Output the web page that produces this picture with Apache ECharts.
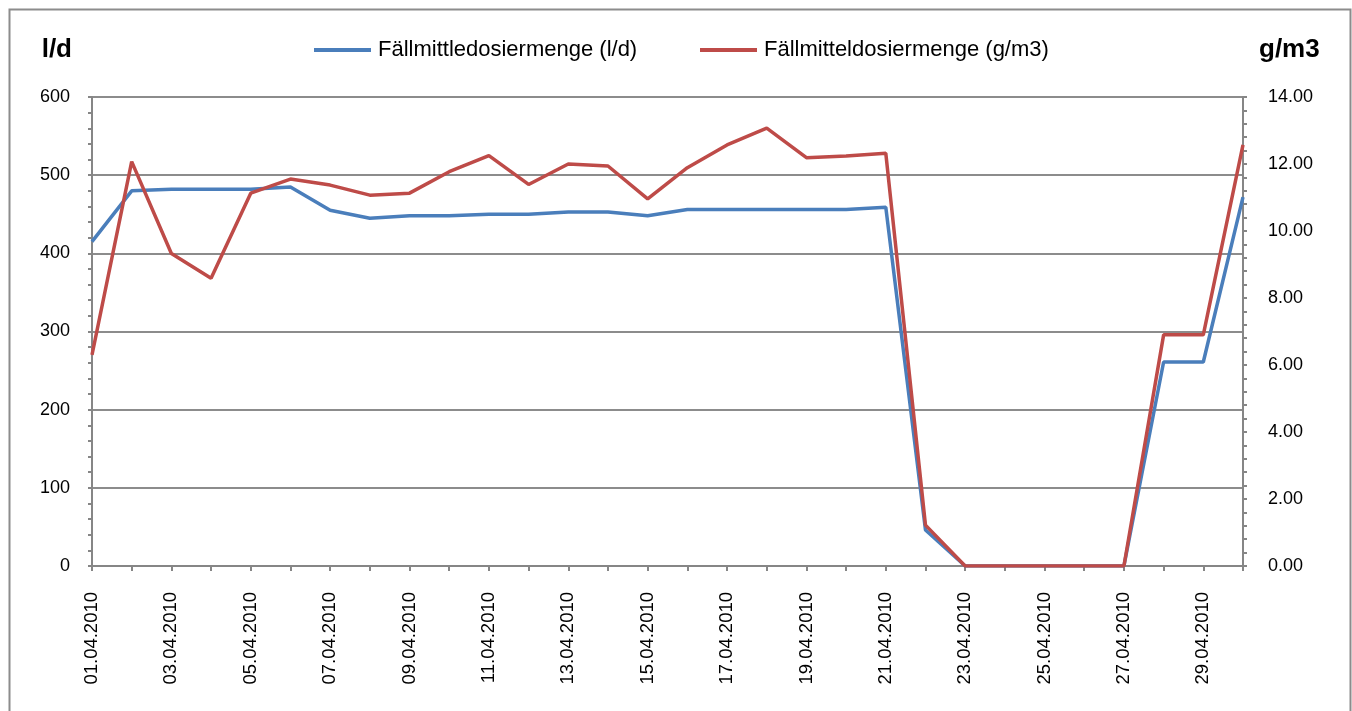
<!DOCTYPE html>
<html>
<head>
<meta charset="utf-8">
<script src="https://cdn.jsdelivr.net/npm/echarts@6/dist/echarts.min.js"></script>
<style>
  html, body { margin: 0; padding: 0; background: #fff; }
  #chart { width: 1352px; height: 711px; }
</style>
</head>
<body>
<div id="chart"></div>
<script>
// Tage im April 2010
var days = [
  "01.04.2010", "02.04.2010", "03.04.2010", "04.04.2010", "05.04.2010",
  "06.04.2010", "07.04.2010", "08.04.2010", "09.04.2010", "10.04.2010",
  "11.04.2010", "12.04.2010", "13.04.2010", "14.04.2010", "15.04.2010",
  "16.04.2010", "17.04.2010", "18.04.2010", "19.04.2010", "20.04.2010",
  "21.04.2010", "22.04.2010", "23.04.2010", "24.04.2010", "25.04.2010",
  "26.04.2010", "27.04.2010", "28.04.2010", "29.04.2010", "30.04.2010"
];
// l/d (linke Achse)
var dosisLiter = [
  415, 480, 482, 482, 482, 485, 455, 445, 448, 448,
  450, 450, 453, 453, 448, 456, 456, 456, 456, 456,
  459, 46, 0, 0, 0, 0, 0, 261, 261, 472
];
// g/m3 (rechte Achse)
var dosisGramm = [
  6.3, 12.07, 9.33, 8.59, 11.13, 11.55, 11.37, 11.07, 11.13, 11.77,
  12.25, 11.39, 12.0, 11.94, 10.96, 11.89, 12.57, 13.07, 12.19, 12.24,
  12.32, 1.22, 0, 0, 0, 0, 0, 6.9, 6.9, 12.57
];
var seriesNames = ["Fällmittledosiermenge (l/d)", "Fällmitteldosiermenge (g/m3)"];

var font = "Liberation Sans, Arial, sans-serif";
var axisGray = "#868686";

function legendAt(left, name) {
  return {
    top: 34,
    left: left,
    itemWidth: 57,
    itemHeight: 4,
    itemGap: 8,
    icon: "rect",
    textStyle: { fontSize: 22, fontFamily: font, color: "#000", padding: [0, 0, 0, 2] },
    data: [name]
  };
}

var chart = echarts.init(document.getElementById("chart"));
chart.setOption({
  animation: false,
  textStyle: { fontFamily: font, color: "#000" },
  graphic: [{
    type: "rect",
    left: 7, top: 7,
    shape: { width: 1341, height: 720 },
    style: { fill: "none", stroke: "#8c8c8c", lineWidth: 2 }
  }],
  legend: [legendAt(309, seriesNames[0]), legendAt(695, seriesNames[1])],
  grid: { left: 92, right: 109, top: 97, bottom: 145 },
  xAxis: {
    type: "category",
    data: days,
    boundaryGap: false,
    axisLine: { lineStyle: { color: axisGray, width: 2 } },
    axisTick: { show: true, interval: 0, length: 5, lineStyle: { color: axisGray, width: 2 } },
    axisLabel: { rotate: 90, interval: 1, fontSize: 18.5, margin: 26, color: "#000" }
  },
  yAxis: [{
    type: "value",
    min: 0, max: 600, interval: 100,
    name: "l/d",
    nameLocation: "end",
    nameGap: 34,
    nameTextStyle: { fontSize: 26, fontWeight: "bold", align: "right", padding: [0, 20, 0, 0], color: "#000" },
    axisLine: { show: true, lineStyle: { color: axisGray, width: 2 } },
    axisTick: { show: true, length: 4, lineStyle: { color: axisGray, width: 2 } },
    minorTick: { show: true, splitNumber: 5, length: 4, lineStyle: { color: axisGray, width: 2 } },
    splitLine: { lineStyle: { color: "#8c8c8c", width: 2 } },
    axisLabel: { fontSize: 18, margin: 22, color: "#000" }
  }, {
    type: "value",
    min: 0, max: 14, interval: 2,
    name: "g/m3",
    nameLocation: "end",
    nameGap: 34,
    nameTextStyle: { fontSize: 26, fontWeight: "bold", align: "left", padding: [0, 0, 0, 16], color: "#000" },
    axisLine: { show: true, lineStyle: { color: axisGray, width: 2 } },
    axisTick: { show: true, length: 4, lineStyle: { color: axisGray, width: 2 } },
    minorTick: { show: true, splitNumber: 5, length: 4, lineStyle: { color: axisGray, width: 2 } },
    splitLine: { show: false },
    axisLabel: { fontSize: 18, margin: 25, color: "#000", formatter: function (v) { return v.toFixed(2); } }
  }],
  series: [{
    name: seriesNames[0],
    type: "line",
    yAxisIndex: 0,
    data: dosisLiter,
    symbol: "none",
    lineStyle: { color: "#4A7EBB", width: 3.5 },
    itemStyle: { color: "#4A7EBB" }
  }, {
    name: seriesNames[1],
    type: "line",
    yAxisIndex: 1,
    data: dosisGramm,
    symbol: "none",
    lineStyle: { color: "#BE4B48", width: 3.5 },
    itemStyle: { color: "#BE4B48" }
  }]
});
</script>
</body>
</html>
